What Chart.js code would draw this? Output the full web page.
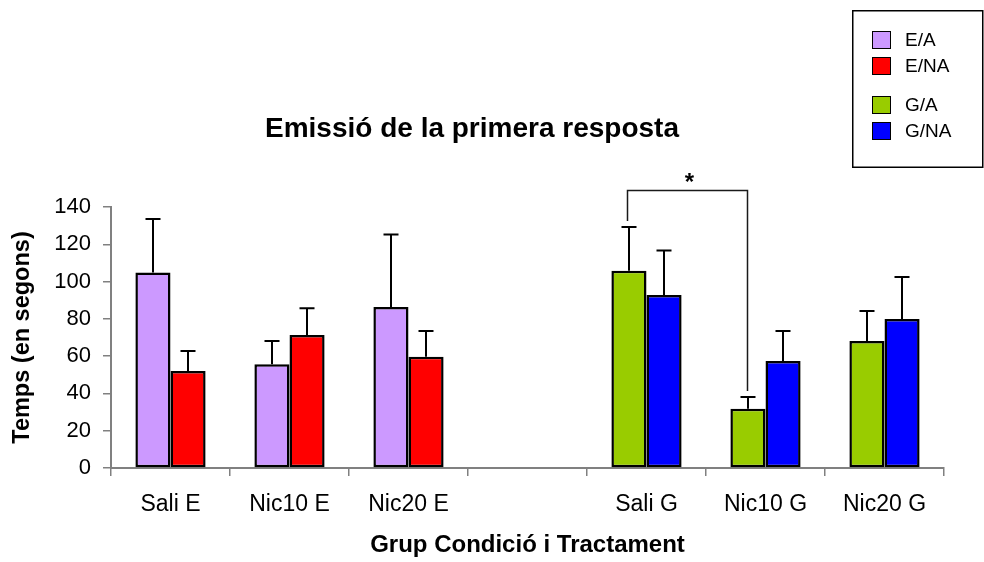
<!DOCTYPE html>
<html>
<head>
<meta charset="utf-8">
<script src="https://cdn.jsdelivr.net/npm/chart.js@4.4.1/dist/chart.umd.min.js"></script>
<style>
  html, body { margin: 0; padding: 0; background: #fff; }
  canvas { display: block; }
</style>
</head>
<body>
<canvas id="chart" width="984" height="562"></canvas>
<script>
// Groups on the x axis (empty slot separates the E and G conditions)
const categories = ['Sali E', 'Nic10 E', 'Nic20 E', '', 'Sali G', 'Nic10 G', 'Nic20 G'];

// Mean latency of the first response (seconds) and upper error (SEM)
const eaMeans  = [104.8, 55.6, 86.4, null, null, null, null];
const eaErrors = [28.8, 12.5, 38.8, null, null, null, null];
const enaMeans  = [52.0, 71.3, 59.7, null, null, null, null];
const enaErrors = [10.8, 14.4, 13.8, null, null, null, null];
const gaMeans  = [null, null, null, null, 105.8, 31.8, 68.1];
const gaErrors = [null, null, null, null, 23.5, 6.3, 16.1];
const gnaMeans  = [null, null, null, null, 92.8, 57.4, 79.9];
const gnaErrors = [null, null, null, null, 23.8, 16.1, 22.6];

const seriesLabels = ['E/A', 'E/NA', 'G/A', 'G/NA'];
const yTicks = { min: 0, max: 140, step: 20 };

const chartTitle = 'Emissió de la primera resposta';
const xTitle = 'Grup Condició i Tractament';
const yTitle = 'Temps (en segons)';

const FONT = "'Liberation Sans', Arial, Helvetica, sans-serif";

// Upward-only error bars with a short cap
const errorBars = {
  id: 'errorBars',
  afterDatasetsDraw(chart) {
    const ctx = chart.ctx;
    const yScale = chart.scales.y;
    ctx.save();
    ctx.strokeStyle = '#000';
    ctx.lineWidth = 2;
    chart.data.datasets.forEach((ds, di) => {
      const meta = chart.getDatasetMeta(di);
      meta.data.forEach((bar, i) => {
        const v = ds.data[i];
        const e = ds.errors[i];
        if (v == null || e == null) return;
        const top = yScale.getPixelForValue(v + e);
        const x = Math.round(bar.x);
        ctx.beginPath();
        ctx.moveTo(x, bar.y);
        ctx.lineTo(x, top);
        ctx.moveTo(x - 7.5, top);
        ctx.lineTo(x + 7.5, top);
        ctx.stroke();
      });
    });
    ctx.restore();
  }
};

// Significance bracket between two bars of one series
const sigBracket = {
  id: 'sigBracket',
  afterDatasetsDraw(chart, args, opts) {
    const ctx = chart.ctx;
    const yScale = chart.scales.y;
    const ds = chart.data.datasets[opts.dataset];
    const meta = chart.getDatasetMeta(opts.dataset);
    const a = meta.data[opts.from];
    const b = meta.data[opts.to];
    const yLine = Math.round(yScale.getPixelForValue(opts.level)) + 0.5;
    const ya = yScale.getPixelForValue(ds.data[opts.from] + ds.errors[opts.from]) - opts.gap;
    const yb = yScale.getPixelForValue(ds.data[opts.to] + ds.errors[opts.to]) - opts.gap;
    const xa = Math.round(a.x) - 1.5;
    const xb = Math.round(b.x) - 0.5;
    ctx.save();
    ctx.strokeStyle = '#1a1a1a';
    ctx.lineWidth = 1.5;
    ctx.beginPath();
    ctx.moveTo(xa, ya);
    ctx.lineTo(xa, yLine);
    ctx.lineTo(xb, yLine);
    ctx.lineTo(xb, yb);
    ctx.stroke();
    ctx.fillStyle = '#000';
    ctx.font = 'bold 24px ' + FONT;
    ctx.textAlign = 'center';
    ctx.textBaseline = 'alphabetic';
    ctx.fillText(opts.label, (xa + xb) / 2 + 2, yLine - 1);
    ctx.restore();
  }
};

// Main title
const titleText = {
  id: 'titleText',
  afterDraw(chart, args, opts) {
    const ctx = chart.ctx;
    ctx.save();
    ctx.fillStyle = '#000';
    ctx.font = 'bold 28px ' + FONT;
    ctx.textAlign = 'center';
    ctx.textBaseline = 'alphabetic';
    ctx.fillText(opts.text, opts.x, opts.y);
    ctx.restore();
  }
};

// Boxed legend in the top-right corner, with a gap between E and G series
const boxLegend = {
  id: 'boxLegend',
  afterDraw(chart, args, opts) {
    const ctx = chart.ctx;
    ctx.save();
    ctx.strokeStyle = '#000';
    ctx.lineWidth = 1.5;
    ctx.strokeRect(852.75, 10.75, 130, 156.5);
    ctx.font = '19px ' + FONT;
    ctx.textAlign = 'left';
    ctx.textBaseline = 'middle';
    chart.data.datasets.forEach((ds, i) => {
      const top = 31 + i * 26 + (i >= 2 ? 13 : 0);
      ctx.fillStyle = ds.backgroundColor;
      ctx.fillRect(872, top, 19, 18);
      ctx.lineWidth = 1;
      ctx.strokeRect(872.5, top + 0.5, 18, 17);
      ctx.fillStyle = '#000';
      ctx.fillText(ds.label, 905, top + 10);
    });
    ctx.restore();
  }
};

const seriesStyle = (color) => ({
  backgroundColor: color,
  borderColor: '#000',
  borderWidth: 2.5,
  borderSkipped: false,
  skipNull: true,
  categoryPercentage: 0.59,
  barPercentage: 1.0
});

new Chart(document.getElementById('chart'), {
  type: 'bar',
  data: {
    labels: categories,
    datasets: [
      Object.assign({ label: seriesLabels[0], data: eaMeans, errors: eaErrors }, seriesStyle('#CC99FF')),
      Object.assign({ label: seriesLabels[1], data: enaMeans, errors: enaErrors }, seriesStyle('#FF0000')),
      Object.assign({ label: seriesLabels[2], data: gaMeans, errors: gaErrors }, seriesStyle('#99CC00')),
      Object.assign({ label: seriesLabels[3], data: gnaMeans, errors: gnaErrors }, seriesStyle('#0000FF'))
    ]
  },
  options: {
    responsive: false,
    animation: false,
    events: [],
    layout: { padding: { top: 207, right: 40, bottom: 0, left: 0 } },
    plugins: {
      legend: { display: false },
      tooltip: { enabled: false },
      title: { display: false },
      titleText: { text: chartTitle, x: 472, y: 137 },
      sigBracket: { dataset: 2, from: 4, to: 5, level: 149, gap: 6, label: '*' }
    },
    scales: {
      x: {
        afterFit(scale) { scale.height = 94; },
        border: { display: true, color: '#808080', width: 2 },
        grid: { display: true, drawOnChartArea: false, drawTicks: true, tickLength: 8, color: '#808080', lineWidth: 1.5, offset: true },
        ticks: { color: '#000', font: { family: FONT, size: 23 }, padding: 15, maxRotation: 0, autoSkip: false },
        title: { display: true, text: xTitle, color: '#000', font: { family: FONT, size: 24, weight: 'bold' }, padding: { top: 0, bottom: 2 } }
      },
      y: {
        min: yTicks.min,
        max: yTicks.max,
        afterFit(scale) { scale.width = 111; },
        border: { display: true, color: '#808080', width: 2 },
        grid: { display: true, drawOnChartArea: false, drawTicks: true, tickLength: 8, color: '#808080', lineWidth: 1.5 },
        ticks: { stepSize: yTicks.step, color: '#000', font: { family: FONT, size: 22 }, padding: 12 },
        title: { display: true, text: yTitle, color: '#000', font: { family: FONT, size: 23.5, weight: 'bold' }, padding: { top: 8, bottom: 0 } }
      }
    }
  },
  plugins: [errorBars, sigBracket, titleText, boxLegend]
});
</script>
</body>
</html>
